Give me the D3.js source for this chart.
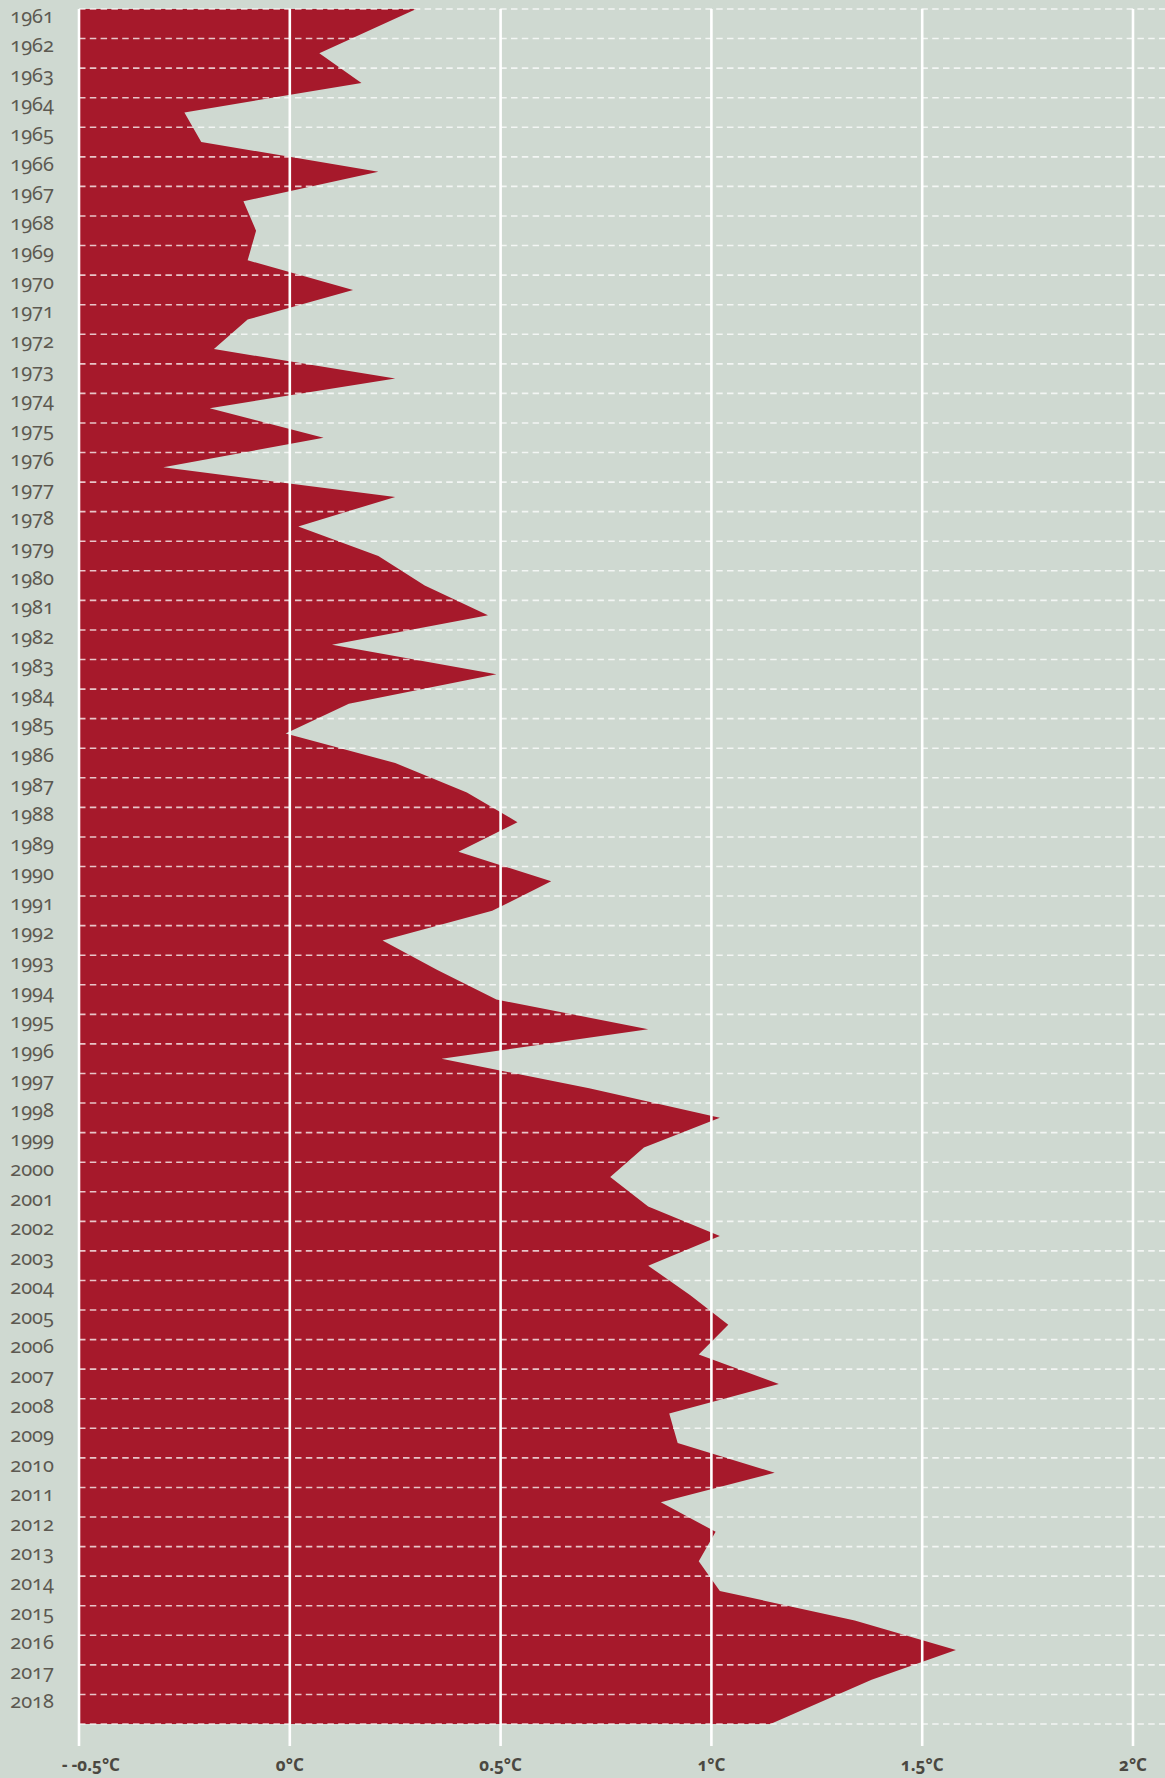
<!DOCTYPE html>
<html>
<head>
<meta charset="utf-8">
<script src="https://cdn.jsdelivr.net/npm/d3@7"></script>
<style>
  html, body { margin: 0; padding: 0; background: #cfd9d1; }
  svg { display: block; }
  .anio { font-family: "Noto Sans", sans-serif; font-size: 20px; fill: #5d5951; font-variant-numeric: oldstyle-nums; }
  .grados { font-family: "Noto Sans", sans-serif; font-size: 17px; font-weight: bold; fill: #4b4841; font-variant-numeric: oldstyle-nums; }
</style>
</head>
<body>
<svg id="grafico" width="1165" height="1778"></svg>
<script>
const anios = [1961, 1962, 1963, 1964, 1965, 1966, 1967, 1968, 1969, 1970,
  1971, 1972, 1973, 1974, 1975, 1976, 1977, 1978, 1979, 1980,
  1981, 1982, 1983, 1984, 1985, 1986, 1987, 1988, 1989, 1990,
  1991, 1992, 1993, 1994, 1995, 1996, 1997, 1998, 1999, 2000,
  2001, 2002, 2003, 2004, 2005, 2006, 2007, 2008, 2009, 2010,
  2011, 2012, 2013, 2014, 2015, 2016, 2017, 2018];

// anomalia de temperatura en °C
const anomalias = [0.30, 0.07, 0.17, -0.25, -0.21, 0.21, -0.11, -0.08, -0.10, 0.15,
  -0.10, -0.18, 0.25, -0.19, 0.08, -0.30, 0.25, 0.02, 0.21, 0.32,
  0.47, 0.10, 0.49, 0.14, -0.01, 0.25, 0.42, 0.54, 0.40, 0.62,
  0.48, 0.22, 0.35, 0.49, 0.85, 0.36, 0.71, 1.02, 0.84, 0.76,
  0.85, 1.02, 0.85, 0.95, 1.04, 0.97, 1.16, 0.90, 0.92, 1.15,
  0.88, 1.01, 0.97, 1.02, 1.34, 1.58, 1.38, 1.14];

const marcas = [-0.5, 0, 0.5, 1, 1.5, 2];
const etiquetas = ["- -0.5°C", "0°C", "0.5°C", "1°C", "1.5°C", "2°C"];

const svg = d3.select("#grafico");
const width = +svg.attr("width");
const arriba = 9, abajo = 1724, finLineas = 1746;

const x = d3.scaleLinear().domain([-0.5, 2]).range([79, 1133]);
const y = d3.scaleBand().domain(anios).range([arriba, abajo]);
const centro = a => y(a) + y.bandwidth() / 2;

const datos = anios.map((a, i) => ({ anio: a, valor: anomalias[i] }));
const ultimo = datos.length - 1;

// area roja, los extremos tocan el borde de arriba y de abajo
const area = d3.area()
  .y((d, i) => i === 0 ? arriba : i === ultimo ? abajo : centro(d.anio))
  .x0(x(-0.5))
  .x1(d => x(d.valor));

svg.append("path")
  .datum(datos)
  .attr("d", area)
  .attr("fill", "#a6192b");

// lineas punteadas entre años
const bordes = anios.map(a => y(a)).concat([abajo]);
svg.append("g")
  .selectAll("line")
  .data(bordes)
  .join("line")
  .attr("x1", x(-0.5))
  .attr("x2", width)
  .attr("y1", d => d)
  .attr("y2", d => d)
  .attr("stroke", "#fff")
  .attr("stroke-opacity", 0.75)
  .attr("stroke-width", 1.6)
  .attr("stroke-dasharray", "6.5,4.3");

// lineas verticales
svg.append("g")
  .selectAll("line")
  .data(marcas)
  .join("line")
  .attr("x1", d => x(d))
  .attr("x2", d => x(d))
  .attr("y1", arriba)
  .attr("y2", finLineas)
  .attr("stroke", "#fff")
  .attr("stroke-width", 2.6);

// etiquetas de años
svg.append("g")
  .selectAll("text")
  .data(anios)
  .join("text")
  .attr("class", "anio")
  .attr("x", 54)
  .attr("y", d => centro(d) - 1)
  .attr("text-anchor", "end")
  .text(d => d);

// etiquetas de grados
svg.append("g")
  .selectAll("text")
  .data(marcas)
  .join("text")
  .attr("class", "grados")
  .attr("x", (d, i) => i === 0 ? x(d) - 17 : x(d))
  .attr("y", 1771)
  .attr("text-anchor", (d, i) => i === 0 ? "start" : "middle")
  .text((d, i) => etiquetas[i]);
</script>
</body>
</html>
